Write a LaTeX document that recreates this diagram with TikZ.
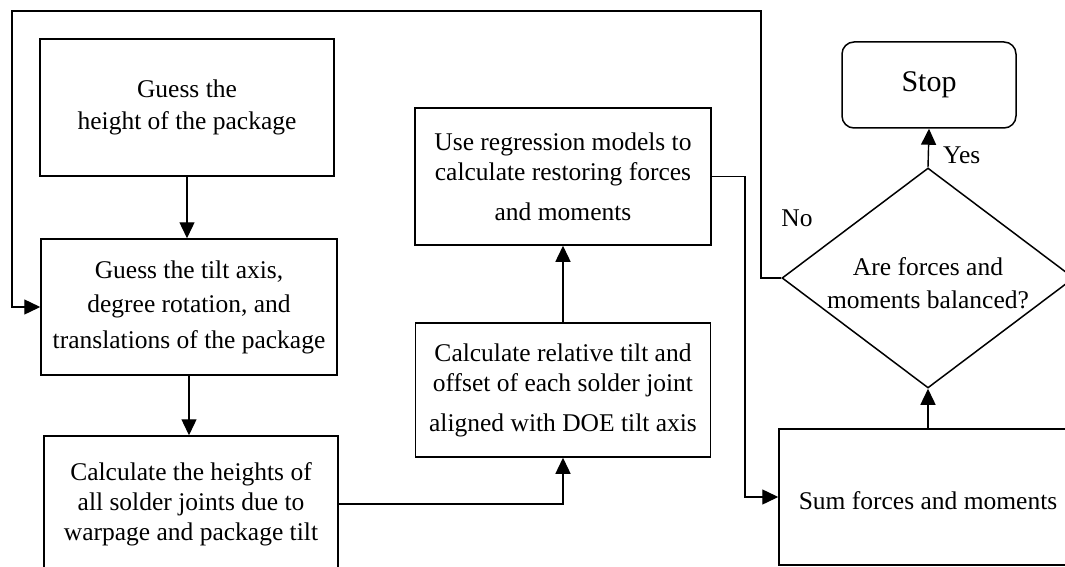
\documentclass[tikz,border=0pt]{standalone}
\usepackage{fontspec}
\setmainfont{Liberation Serif}
\usetikzlibrary{arrows.meta,shapes.geometric}
\begin{document}
\begin{tikzpicture}[x=1pt,y=-1pt,
  box/.style={draw,line width=1.5pt,inner sep=0pt,align=center,
    font=\fontsize{25.5}{30}\selectfont},
  arr/.style={line width=1.4pt,-{Triangle[length=16pt,width=15pt]}},
  lab/.style={font=\fontsize{25.5}{30}\selectfont,inner sep=0pt}]
\useasboundingbox (0,0) rectangle (1065,567);
\clip (0,0) rectangle (1065,567);
% boxes
\node[box,minimum width=294pt,minimum height=137pt] (b1) at (187,107.5)
  {Guess the\\[2pt]height of the package};
\node[box,minimum width=296pt,minimum height=136pt] (b2) at (189,307)
  {Guess the tilt axis,\\[4pt]degree rotation, and\\[6pt]translations of the package};
\node[box,minimum width=294pt,minimum height=136pt] (b3) at (191,504)
  {Calculate the heights of\\all solder joints due to\\warpage and package tilt};
\node[box,minimum width=296pt,minimum height=137pt] (b4) at (563,176.5)
  {Use regression models to\\calculate restoring forces\\[10pt]and moments};
\node[box,minimum width=295pt,minimum height=134pt] (b5) at (563,390)
  {Calculate relative tilt and\\offset of each solder joint\\[10pt]aligned with DOE tilt axis};
\node[box,minimum width=298pt,minimum height=136pt,text height=30pt,text depth=6pt] (b6) at (928,497)
  {Sum forces and moments};
\node[box,rounded corners=12pt,minimum width=174pt,minimum height=86pt,font=\fontsize{30}{34}\selectfont] (stop) at (929,85)
  {Stop};
\node[draw,line width=1.5pt,shape=diamond,minimum width=292pt,minimum height=220pt,inner sep=0pt] (dia) at (928,278) {};
\node[lab,align=center,font=\fontsize{25.5}{33}\selectfont] (dtext) at (928,283) {Are forces and\\moments balanced?};
% labels
\node[lab,anchor=west] (yes) at (943,155) {Yes};
\node[lab] (no) at (797,218) {No};
% helper coordinates
\coordinate (j1) at (745,176.5);
\coordinate (nA) at (761,11);
\coordinate (nB) at (12,11);
% connectors
\draw[arr] (b1.south) -- (b1.south |- b2.north);
\draw[arr] (b2.south) -- (b2.south |- b3.north);
\draw[arr] (b3.east) -| (b5.south);
\draw[arr] (b5.north) -- (b5.north |- b4.south);
\draw[arr] (b4.east) -- (j1) |- (b6.west);
\draw[arr] (b6.north) -- (dia.south);
\draw[arr] (dia.north) -- (stop.south);
\draw[arr] (dia.west) -| (nA) -- (nB) |- (b2.west);
\end{tikzpicture}
\end{document}
